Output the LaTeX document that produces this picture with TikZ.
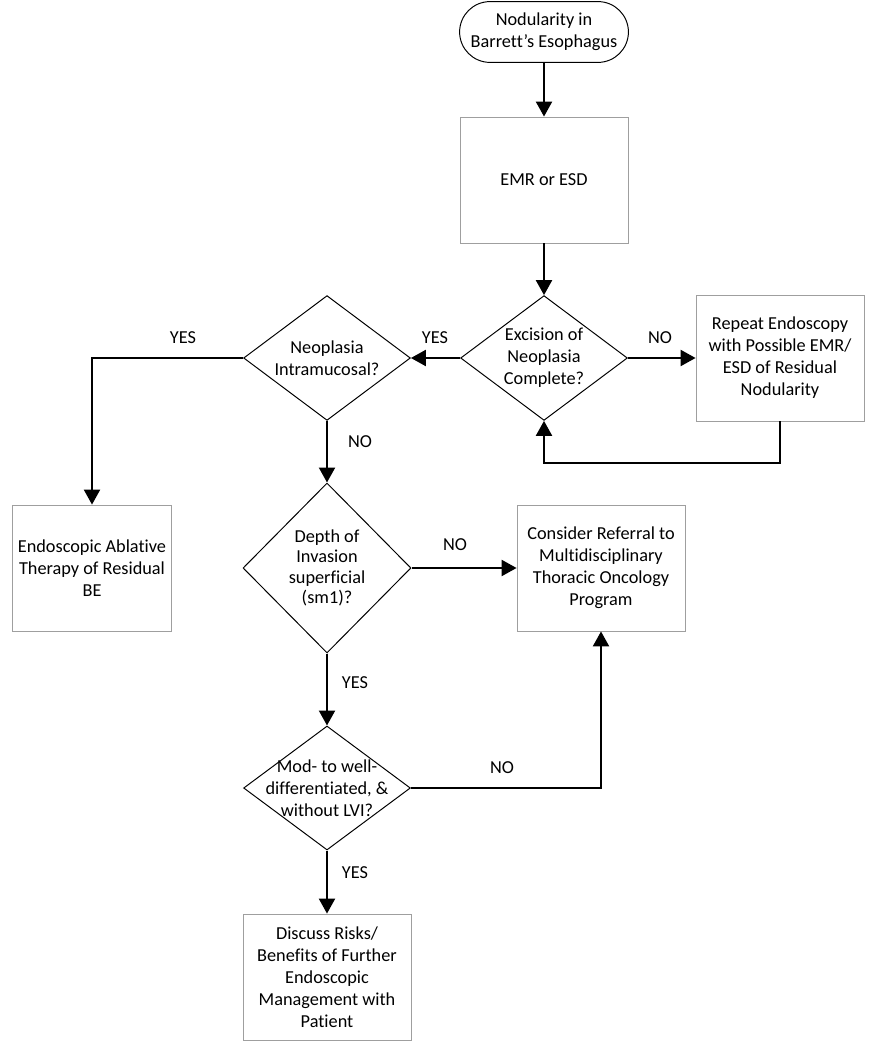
\documentclass[tikz,border=0pt]{standalone}
\usepackage{fontspec}
\setmainfont{Carlito}[Ligatures={TeX,NoCommon}]
\usetikzlibrary{arrows.meta,positioning,shapes.geometric}

\begin{document}
\begin{tikzpicture}[
    font=\fontsize{13}{15.6}\selectfont,
    box/.style={draw=gray!75, line width=0.6pt, minimum width=4.2cm, minimum height=3.15cm, align=center},
    decision/.style={diamond, draw, line width=0.7pt, minimum width=4.17cm, minimum height=3.12cm, inner sep=0pt},
    startstop/.style={draw, line width=0.7pt, rounded corners=0.76cm, minimum width=4.22cm, minimum height=1.52cm, align=center},
    flow/.style={line width=1.6pt, -{Triangle[length=3.75mm,width=4mm]}},
    answer/.style={inner sep=1pt}
  ]
    \useasboundingbox (0,0) rectangle (21.75,-26.25);

    % Start and first resection
    \node[startstop] (start) at (13.6,-0.8) {Nodularity in\\Barrett's Esophagus};
    \node[box] (emr) at (13.6,-4.5) {EMR or ESD};

    % Decisions on the top row
    \node[decision, label={[align=center]center:{Excision of\\Neoplasia\\Complete?}}] (excise) at (13.6,-8.95) {};
    \node[decision, label={[align=center]center:{Neoplasia\\Intramucosal?}}] (neo) at (8.175,-8.95) {};
    \node[box] (again) at (19.5,-8.95) {Repeat Endoscopy\\with Possible EMR/\\ESD of Residual\\Nodularity};
    \coordinate (back) at (13.6,-11.575);

    % Middle row
    \node[box, minimum width=3.98cm] (endo) at (2.3,-14.2) {Endoscopic Ablative\\Therapy of Residual\\BE};
    \node[decision, minimum width=4.2cm, minimum height=4.25cm,
          label={[align=center, font=\fontsize{13}{14.5}\selectfont]center:{Depth of\\Invasion\\superficial\\(sm1)?}}] (depth) at (8.175,-14.2) {};
    \node[box] (consider) at (15.025,-14.2) {Consider Referral to\\Multidisciplinary\\Thoracic Oncology\\Program};

    % Bottom
    \node[decision, minimum height=3.1cm, label={[align=center]center:{Mod- to well-\\differentiated, \&\\without LVI?}}] (mod) at (8.175,-19.7) {};
    \node[box] (discuss) at (8.175,-24.425) {Discuss Risks/\\Benefits of Further\\Endoscopic\\Management with\\Patient};

    % Connectors
    \draw[flow] (start) -- (emr);
    \draw[flow] (emr) -- (excise);
    \draw[flow] (excise) -- (neo);
    \draw[flow] (excise) -- (again);
    \draw[flow] (again.south) |- (back) -- (excise.south);
    \draw[flow] (neo.west) -| (endo.north);
    \draw[flow] (neo) -- (depth);
    \draw[flow] (depth) -- (consider);
    \draw[flow] (depth) -- (mod);
    \draw[flow] (mod.east) -| (consider.south);
    \draw[flow] (mod) -- (discuss);

    % Answers
    \node[answer] (yes1) at (10.875,-8.45) {YES};
    \node[answer] (no1) at (16.5,-8.45) {NO};
    \node[answer] (yes2) at (4.575,-8.45) {YES};
    \node[answer] (no2) at (9.0,-11.05) {NO};
    \node[answer] (no3) at (11.375,-13.625) {NO};
    \node[answer] (yes3) at (8.875,-17.075) {YES};
    \node[answer] (no4) at (12.55,-19.2) {NO};
    \node[answer] (yes4) at (8.875,-21.825) {YES};
  \end{tikzpicture}
\end{document}
